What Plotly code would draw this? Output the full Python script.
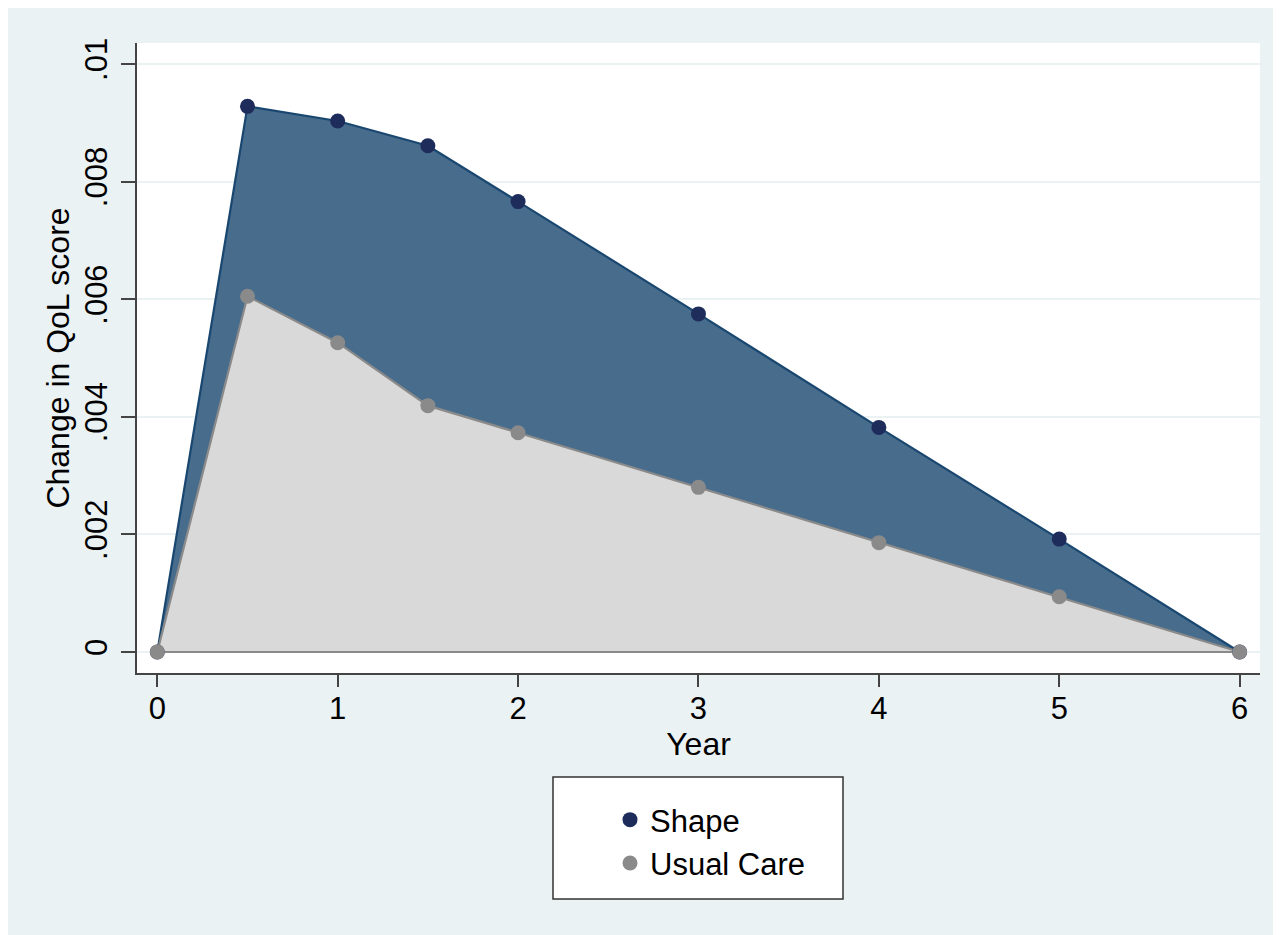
import plotly.graph_objects as go

# ---- data ----
years = [0, 0.5, 1, 1.5, 2, 3, 4, 5, 6]
shape_vals = [0, 0.00928, 0.00903, 0.00861, 0.00766, 0.00575, 0.00382, 0.00192, 0]
usual_vals = [0, 0.00605, 0.00526, 0.00419, 0.00373, 0.00280, 0.00186, 0.00094, 0]
series_names = ["Shape", "Usual Care"]
x_ticks = [0, 1, 2, 3, 4, 5, 6]
y_ticks = [0, 0.002, 0.004, 0.006, 0.008, 0.01]
y_tick_text = ["0", ".002", ".004", ".006", ".008", ".01"]

# ---- styling ----
OFF = 8  # page body margin
W, H = 1281 - OFF, 935 - OFF
L, T = 137 - OFF, 43 - OFF
R = W - (1260 - OFF)
B = H - (673 - OFF)
PW, PH = W - L - R, H - T - B
FONT = "Liberation Sans, Arial, sans-serif"
BG = "#EAF2F3"
NAVY_FILL = "#486C8C"
NAVY_LINE = "#1A476F"
NAVY_MARK = "#1E2C5B"
GRAY_FILL = "#D9D9D9"
GRAY_LINE = "#8A8A8A"
GRAY_MARK = "#8A8A8A"


def px_x(px):
    """screen x (reference pixels) -> paper fraction"""
    return (px - OFF - L) / PW


def px_y(py):
    """screen y (reference pixels) -> paper fraction"""
    return (H - B - (py - OFF)) / PH


fig = go.Figure()

# areas
fig.add_trace(go.Scatter(x=years, y=shape_vals, mode="lines", fill="tozeroy",
                         fillcolor=NAVY_FILL, line=dict(color=NAVY_LINE, width=2.2),
                         showlegend=False, hoverinfo="skip"))
fig.add_trace(go.Scatter(x=years, y=usual_vals, mode="lines", fill="tozeroy",
                         fillcolor=GRAY_FILL, line=dict(color=GRAY_LINE, width=2.2),
                         showlegend=False, hoverinfo="skip"))
# baseline of the area outline
fig.add_trace(go.Scatter(x=[years[0], years[-1]], y=[0, 0], mode="lines",
                         line=dict(color=GRAY_LINE, width=2.2),
                         showlegend=False, hoverinfo="skip"))
# markers
fig.add_trace(go.Scatter(x=years, y=shape_vals, mode="markers", name=series_names[0],
                         marker=dict(color=NAVY_MARK, size=15)))
fig.add_trace(go.Scatter(x=years, y=usual_vals, mode="markers", name=series_names[1],
                         marker=dict(color=GRAY_MARK, size=15)))

shapes = [
    # legend box
    dict(type="rect", xref="paper", yref="paper", x0=px_x(553), x1=px_x(843),
         y0=px_y(899), y1=px_y(777), fillcolor="white",
         line=dict(color="#333333", width=1.5), layer="below"),
]

fig.update_layout(
    width=W, height=H,
    margin=dict(l=L, r=R, t=T, b=B, autoexpand=False),
    paper_bgcolor=BG, plot_bgcolor="white",
    font=dict(family=FONT, size=32, color="black"),
    hovermode=False,
    shapes=shapes,
    legend=dict(x=px_x(610), y=px_y(793), xanchor="left", yanchor="top",
                bgcolor="rgba(0,0,0,0)", borderwidth=0,
                font=dict(family=FONT, size=31, color="black"),
                tracegroupgap=0),
    xaxis=dict(range=[-0.1125, 6.1128], tickvals=x_ticks, showgrid=False, zeroline=False,
               showline=True, linecolor="#444444", linewidth=1.5,
               ticks="outside", ticklen=12, tickwidth=1.5, tickcolor="#444444",
               tickfont=dict(size=31), ticklabelstandoff=-5,
               title=dict(text="Year", standoff=4, font=dict(size=32)),
               automargin=False),
    yaxis=dict(range=[-0.000357, 0.010357], tickvals=y_ticks, ticktext=y_tick_text,
               tickangle=-90, showgrid=True, gridcolor=BG, gridwidth=1.5, zeroline=False,
               showline=True, linecolor="#444444", linewidth=1.5,
               ticks="outside", ticklen=14, tickwidth=1.5, tickcolor="#444444",
               tickfont=dict(size=31), ticklabelstandoff=2,
               title=dict(text="Change in QoL score", standoff=0, font=dict(size=32)),
               automargin=False),
)

fig.write_html("out.html")
